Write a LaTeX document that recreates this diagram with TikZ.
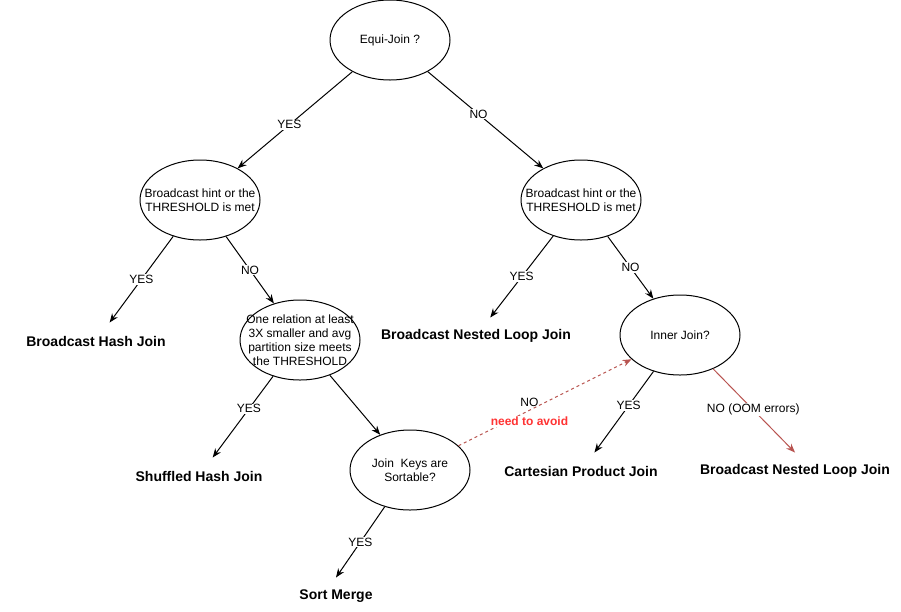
\documentclass[tikz,border=0pt]{standalone}
\usepackage{fontspec}
\setmainfont{Liberation Sans}
\usepackage{tikz}
\usetikzlibrary{shapes}
\usetikzlibrary{arrows.meta}
\makeatletter
\tikzset{font append/.style={font/.expand once=\tikz@textfont #1},
         font append/.value required}
\makeatother
\definecolor{oomred}{HTML}{B85450}
\definecolor{avoidred}{HTML}{FF3333}
\tikzstyle{dec}=[ellipse,draw,minimum width=120pt,minimum height=80pt,inner sep=0pt]
\tikzstyle{res}=[font append=\bfseries\fontsize{14}{17}\selectfont,rectangle,minimum height=36pt,inner sep=2pt]
\tikzstyle{ans}=[fill=white,inner sep=1pt]

\begin{document}
\begin{tikzpicture}[x=1pt,y=-1pt,font=\fontsize{12}{14}\selectfont,line width=1pt,>={Stealth[length=9pt,width=7pt,inset=3pt]}]
	\useasboundingbox (0,0) rectangle (901,611);
	% questions
	\node[dec,label={[align=center]center:Equi-Join ?}] (equi) at (390,40) {};
	\node[dec,label={[align=center]center:Broadcast hint or the\\THRESHOLD is met}] (hintl) at (200,200) {};
	\node[dec,label={[align=center]center:Broadcast hint or the\\THRESHOLD is met}] (hintr) at (581,200) {};
	\node[dec,label={[align=center]center:One relation at least\\3X smaller and avg\\partition size meets\\the THRESHOLD}] (rel) at (300,340) {};
	\node[dec,label={[align=center]center:Join\ \ Keys are\\Sortable?}] (keys) at (410,470) {};
	\node[dec,label={[align=center]center:Inner Join?}] (inner) at (680,335) {};
	
	% joins
	\node[res] (bhj) at (96,341) {Broadcast Hash Join};
	\node[res] (bnljl) at (476,336) {Broadcast Nested Loop Join};
	\node[res] (shj) at (199,476) {Shuffled Hash Join};
	\node[res] (sm) at (336,596) {Sort Merge};
	\node[res] (cpj) at (581,471) {Cartesian Product Join};
	\node[res] (bnljr) at (795,471) {Broadcast Nested Loop Join};
	
	\draw[->] (equi) -- node[ans,pos=0.55] {YES} (hintl);
	\draw[->] (equi) -- node[ans,pos=0.44] {NO} (hintr);
	
	\draw[->] (hintl) -- node[ans] {YES} (bhj);
	\draw[->] (hintl) -- node[ans] {NO} (rel);
	\draw[->] (hintr) -- node[ans] {YES} (bnljl);
	\draw[->] (hintr) -- node[ans] {NO} (inner);
	
	\draw[->] (rel) -- node[ans,pos=0.4] {YES} (shj);
	\draw[->] (rel) -- (keys);
	\draw[->] (keys) -- node[ans] {YES} (sm.north);
	\draw[->,oomred,dashed] (keys) -- node[pos=0.41,yshift=8pt,text=black] {NO} node[ans,pos=0.41,yshift=-11pt,text=avoidred,font append=\bfseries] {need to avoid} (inner);
	
	\draw[->] (inner) -- node[ans,pos=0.42] {YES} (cpj);
	\draw[->,oomred] (inner) -- node[ans,text=black,pos=0.49] {NO (OOM errors)} (bnljr.north);
\end{tikzpicture}
\end{document}
